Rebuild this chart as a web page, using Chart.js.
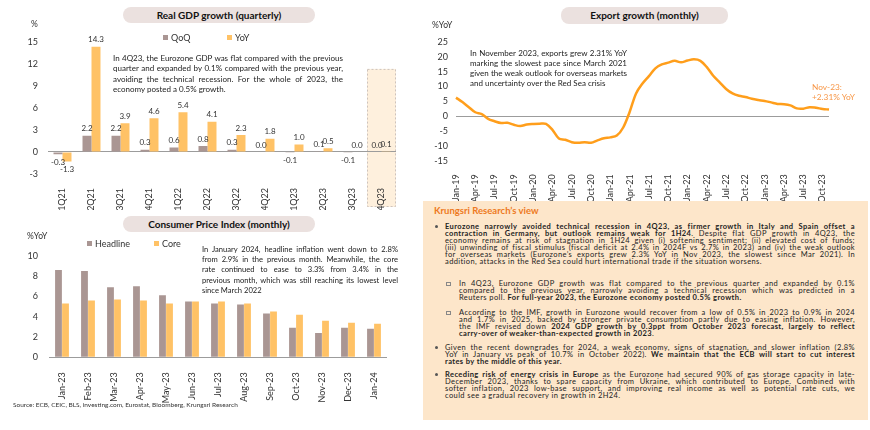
<!DOCTYPE html>
<html>
<head>
<meta charset="utf-8">
<script src="https://cdn.jsdelivr.net/npm/chart.js@4.4.1/dist/chart.umd.min.js"></script>
<style>
  body { margin: 0; background: #fff; font-family: Lato, 'Open Sans', sans-serif; color: #222; }
  #page { position: relative; width: 870px; height: 430px; overflow: hidden; }
  canvas { position: absolute; }
  .pill { position: absolute; background: #EBE1DF; border-radius: 8px; font-weight: 700; font-size: 10px; color: #111; text-align: center; }
  .unit { position: absolute; font-size: 8.5px; color: #333; line-height: 10px; }
  .key { position: absolute; font-size: 9px; color: #333; line-height: 10px; white-space: nowrap; }
  .key i { display: inline-block; width: 5px; height: 5px; margin-right: 3px; vertical-align: 1px; }
  .note { position: absolute; font-size: 8px; color: #222; }
  .note div { white-space: nowrap; text-align: justify; text-align-last: justify; }
  .note div.end { text-align-last: left; }
  #view { position: absolute; left: 423px; top: 201px; width: 445px; height: 219px; background: #FDE6CA; }
  #viewTitle { position: absolute; left: 434px; top: 205px; font-size: 9.5px; font-weight: 700; color: #EE7A22; line-height: 12px; }
  .ln { position: absolute; left: 445px; width: 410px; height: 7px; line-height: 7px; font-size: 7.5px; color: #222;
        white-space: nowrap; text-align: justify; text-align-last: justify; }
  .ln.sub { left: 459px; width: 396px; }
  .ln.end { text-align-last: left; }
  .dot { position: absolute; left: 435px; width: 3px; height: 3px; border-radius: 50%; background: #555; }
  .box { position: absolute; left: 446px; width: 2.5px; height: 2.5px; border: 0.6px solid #888; }
  #source { position: absolute; left: 13px; top: 401px; font-size: 6.5px; color: #333; }
</style>
</head>
<body>
<div id="page">
  <div class="pill" style="left:123px;top:7px;width:192px;height:16px;line-height:16px;">Real GDP growth (quarterly)</div>
  <div class="pill" style="left:123px;top:216px;width:192px;height:16px;line-height:16px;">Consumer Price Index (monthly)</div>
  <div class="pill" style="left:561px;top:7px;width:167px;height:17px;line-height:17px;">Export growth (monthly)</div>

  <canvas id="gdp" width="420" height="210" style="left:0;top:0;"></canvas>
  <canvas id="cpi" width="420" height="200" style="left:0;top:205px;"></canvas>
  <canvas id="exp" width="445" height="205" style="left:425px;top:0;"></canvas>

  <div class="unit" style="left:31px;top:19px;">%</div>
  <div class="unit" style="left:27px;top:231px;">%YoY</div>
  <div class="unit" style="left:432px;top:20px;">%YoY</div>

  <div class="key" style="left:163px;top:33px;"><i style="background:#AA9693"></i>QoQ</div>
  <div class="key" style="left:227px;top:33px;"><i style="background:#FFC266"></i>YoY</div>
  <div class="key" style="left:87px;top:239px;"><i style="background:#AA9693"></i>Headline</div>
  <div class="key" style="left:154px;top:239px;"><i style="background:#FFC266"></i>Core</div>

  <div class="note" style="left:113px;top:53px;width:230px;line-height:10.3px;">
    <div>In 4Q23, the Eurozone GDP was flat compared with the previous</div>
    <div>quarter and expanded by 0.1% compared with the previous year,</div>
    <div>avoiding the technical recession. For the whole of 2023, the</div>
    <div class="end">economy posted a 0.5% growth.</div>
  </div>
  <div class="note" style="left:202px;top:244px;width:196px;line-height:10.2px;font-size:7.6px;">
    <div>In January 2024, headline inflation went down to 2.8%</div>
    <div>from 2.9% in the previous month. Meanwhile, the core</div>
    <div>rate continued to ease to 3.3% from 3.4% in the</div>
    <div>previous month, which was still reaching its lowest level</div>
    <div class="end">since March 2022</div>
  </div>
  <div class="note" style="left:470px;top:48px;width:157px;line-height:10px;">
    <div>In November 2023, exports grew 2.31% YoY</div>
    <div>marking the slowest pace since March 2021</div>
    <div>given the weak outlook for overseas markets</div>
    <div class="end">and uncertainty over the Red Sea crisis</div>
  </div>
  <div class="note" style="left:812px;top:82px;line-height:10.4px;font-size:8.3px;color:#F79646;">Nov-23:<br>+2.31% YoY</div>

  <div id="source">Source: ECB, CEIC, BLS, investing.com, Eurostat, Bloomberg, Krungsri Research</div>

  <div id="view"></div>
  <div id="viewTitle">Krungsri Research’s view</div>

  <div class="dot" style="top:224.5px;"></div>
  <div class="ln" style="top:222.5px;"><b>Eurozone narrowly avoided technical recession in 4Q23, as firmer growth in Italy and Spain offset a</b></div>
  <div class="ln" style="top:229.6px;"><b>contraction in Germany, but outlook remains weak for 1H24</b>. Despite flat GDP growth in 4Q23, the</div>
  <div class="ln" style="top:236.7px;">economy remains at risk of stagnation in 1H24 given (i) softening sentiment; (ii) elevated cost of funds;</div>
  <div class="ln" style="top:243.8px;">(iii) unwinding of fiscal stimulus (fiscal deficit at 2.4% in 2024F vs 2.7% in 2023) and (iv) the weak outlook</div>
  <div class="ln" style="top:250.9px;">for overseas markets (Eurozone’s exports grew 2.3% YoY in Nov 2023, the slowest since Mar 2021). In</div>
  <div class="ln end" style="top:258px;">addition, attacks in the Red Sea could hurt international trade if the situation worsens.</div>

  <div class="box" style="top:281.8px;"></div>
  <div class="ln sub" style="top:279.8px;">In 4Q23, Eurozone GDP growth was flat compared to the previous quarter and expanded by 0.1%</div>
  <div class="ln sub" style="top:286.9px;">compared to the previous year, narrowly avoiding a technical recession which was predicted in a</div>
  <div class="ln sub end" style="top:294px;">Reuters poll. <b>For full-year 2023, the Eurozone economy posted 0.5% growth.</b></div>

  <div class="box" style="top:310.5px;"></div>
  <div class="ln sub" style="top:308.5px;">According to the IMF, growth in Eurozone would recover from a low of 0.5% in 2023 to 0.9% in 2024</div>
  <div class="ln sub" style="top:315.6px;">and 1.7% in 2025, backed by stronger private consumption partly due to easing inflation. However,</div>
  <div class="ln sub" style="top:322.7px;">the IMF revised down <b>2024 GDP growth by 0.3ppt from October 2023 forecast, largely to reflect</b></div>
  <div class="ln sub end" style="top:329.8px;"><b>carry-over of weaker-than-expected growth in 2023</b>.</div>

  <div class="dot" style="top:345.8px;"></div>
  <div class="ln" style="top:343.8px;">Given the recent downgrades for 2024, a weak economy, signs of stagnation, and slower inflation (2.8%</div>
  <div class="ln" style="top:350.9px;">YoY in January vs peak of 10.7% in October 2022). <b>We maintain that the ECB will start to cut interest</b></div>
  <div class="ln end" style="top:358px;"><b>rates by the middle of this year.</b></div>

  <div class="dot" style="top:372.5px;"></div>
  <div class="ln" style="top:370.5px;"><b>Receding risk of energy crisis in Europe</b> as the Eurozone had secured 90% of gas storage capacity in late-</div>
  <div class="ln" style="top:377.6px;">December 2023, thanks to spare capacity from Ukraine, which contributed to Europe. Combined with</div>
  <div class="ln" style="top:384.7px;">softer inflation, 2023 low-base support, and improving real income as well as potential rate cuts, we</div>
  <div class="ln end" style="top:391.8px;">could see a gradual recovery in growth in 2H24.</div>
</div>

<script>
// GDP (quarterly, %)
const gdpQuarters = ['1Q21', '2Q21', '3Q21', '4Q21', '1Q22', '2Q22', '3Q22', '4Q22', '1Q23', '2Q23', '3Q23', '4Q23'];
const gdpQoQ = [-0.3, 2.2, 2.2, 0.3, 0.6, 0.8, 0.3, 0.0, -0.1, 0.1, -0.1, 0.0];
const gdpYoY = [-1.3, 14.3, 3.9, 4.6, 5.4, 4.1, 2.3, 1.8, 1.0, 0.5, 0.0, 0.1];
const highlightQuarter = '4Q23';
const highlightTop = 11.3;

// CPI (monthly, %YoY)
const cpiMonths = ['Jan-23', 'Feb-23', 'Mar-23', 'Apr-23', 'May-23', 'Jun-23', 'Jul-23', 'Aug-23', 'Sep-23', 'Oct-23', 'Nov-23', 'Dec-23', 'Jan-24'];
const cpiHeadline = [8.6, 8.5, 6.9, 7.0, 6.1, 5.5, 5.3, 5.2, 4.3, 2.9, 2.4, 2.9, 2.8];
const cpiCore = [5.3, 5.6, 5.7, 5.6, 5.3, 5.5, 5.5, 5.3, 4.5, 4.2, 3.6, 3.4, 3.3];

// Exports (monthly, %YoY)
const exportMonths = [
  'Jan-19', 'Feb-19', 'Mar-19', 'Apr-19', 'May-19', 'Jun-19', 'Jul-19', 'Aug-19', 'Sep-19', 'Oct-19', 'Nov-19', 'Dec-19',
  'Jan-20', 'Feb-20', 'Mar-20', 'Apr-20', 'May-20', 'Jun-20', 'Jul-20', 'Aug-20', 'Sep-20', 'Oct-20', 'Nov-20', 'Dec-20',
  'Jan-21', 'Feb-21', 'Mar-21', 'Apr-21', 'May-21', 'Jun-21', 'Jul-21', 'Aug-21', 'Sep-21', 'Oct-21', 'Nov-21', 'Dec-21',
  'Jan-22', 'Feb-22', 'Mar-22', 'Apr-22', 'May-22', 'Jun-22', 'Jul-22', 'Aug-22', 'Sep-22', 'Oct-22', 'Nov-22', 'Dec-22',
  'Jan-23', 'Feb-23', 'Mar-23', 'Apr-23', 'May-23', 'Jun-23', 'Jul-23', 'Aug-23', 'Sep-23', 'Oct-23', 'Nov-23'
];
const exportYoY = [
  6.3, 4.8, 3.1, 1.4, 0.8, -0.8, -1.6, -2.2, -2.1, -2.8, -3.2, -2.7,
  -2.5, -2.4, -2.5, -4.5, -7.4, -7.8, -8.6, -8.8, -8.6, -8.8, -8.0, -7.3,
  -7.0, -6.4, -3.7, 1.5, 7.7, 11.0, 13.5, 16.1, 17.4, 18.0, 18.6, 18.1,
  18.7, 19.1, 18.6, 16.5, 13.6, 11.4, 9.2, 7.7, 6.9, 6.5, 5.9, 5.5,
  5.2, 4.7, 4.2, 4.1, 3.7, 2.7, 2.6, 3.1, 2.9, 2.5, 2.31
];

const GREY = '#AA9693';
const ORANGE = '#FFC266';
const LINE = '#FF9E1B';

// widen the view text with one common letter spacing, as far as every line still fits
(function fitView() {
  const lines = document.querySelectorAll('.ln');
  let ls = 0.4;
  const fits = () => Array.from(lines).every(el => el.scrollWidth <= el.clientWidth + 0.5);
  const apply = () => lines.forEach(el => { el.style.letterSpacing = ls + 'px'; });
  apply();
  while (!fits() && ls > -0.3) {
    ls -= 0.02;
    apply();
  }
})();

Chart.defaults.font.family = 'Lato';
Chart.defaults.font.size = 9;
Chart.defaults.color = '#333';
Chart.defaults.animation = false;
Chart.defaults.plugins.legend.display = false;
Chart.defaults.plugins.tooltip.enabled = false;

// only the zero line is drawn, in grey
const zeroLine = { color: c => c.tick.value === 0 ? '#9C9C9C' : 'rgba(0,0,0,0)', drawTicks: false };

function xAxis(height, pad, extra) {
  return Object.assign({
    grid: { display: false },
    border: { display: false },
    ticks: { minRotation: 90, maxRotation: 90, padding: pad, autoSkip: false },
    afterFit: s => { s.height = height; }
  }, extra || {});
}

function yAxis(width, pad, min, max, step) {
  return {
    min: min, max: max,
    grid: zeroLine,
    border: { display: false },
    ticks: { stepSize: step, padding: pad },
    afterFit: s => { s.width = width; }
  };
}

const barLabels = {
  id: 'barLabels',
  afterDatasetsDraw(chart) {
    const ctx = chart.ctx;
    ctx.save();
    ctx.font = '8px Lato';
    ctx.fillStyle = '#333';
    ctx.textAlign = 'center';
    chart.data.datasets.forEach((ds, i) => {
      chart.getDatasetMeta(i).data.forEach((bar, j) => {
        const v = ds.data[j];
        if (v < 0) {
          ctx.textBaseline = 'top';
          ctx.fillText(v.toFixed(1), bar.x, bar.y + 4);
        } else {
          ctx.textBaseline = 'bottom';
          ctx.fillText(v.toFixed(1), bar.x, bar.y - 3);
        }
      });
    });
    ctx.restore();
  }
};

const highlight = {
  id: 'highlight',
  beforeDraw(chart) {
    const x = chart.scales.x, y = chart.scales.y, ctx = chart.ctx;
    const w = x.width / gdpQuarters.length;
    const left = x.getPixelForValue(gdpQuarters.indexOf(highlightQuarter)) - w / 2;
    const top = y.getPixelForValue(highlightTop);
    const h = chart.height - 3 - top;
    ctx.save();
    ctx.fillStyle = '#FEF0DD';
    ctx.fillRect(left, top, w, h);
    ctx.setLineDash([2, 2]);
    ctx.strokeStyle = '#CDC3BD';
    ctx.lineWidth = 1;
    ctx.strokeRect(left + 0.5, top + 0.5, w - 1, h - 1);
    ctx.restore();
  }
};

new Chart(document.getElementById('gdp'), {
  type: 'bar',
  data: {
    labels: gdpQuarters,
    datasets: [
      { label: 'QoQ', data: gdpQoQ, backgroundColor: GREY },
      { label: 'YoY', data: gdpYoY, backgroundColor: ORANGE }
    ]
  },
  options: {
    responsive: false,
    layout: { padding: { top: 41.7, right: 24, left: 0, bottom: 0 } },
    datasets: { bar: { categoryPercentage: 0.62, barPercentage: 1.0 } },
    scales: {
      x: xAxis(36, 6),
      y: yAxis(48, 10, -3, 15, 3)
    }
  },
  plugins: [highlight, barLabels]
});

new Chart(document.getElementById('cpi'), {
  type: 'bar',
  data: {
    labels: cpiMonths,
    datasets: [
      { label: 'Headline', data: cpiHeadline, backgroundColor: GREY },
      { label: 'Core', data: cpiCore, backgroundColor: ORANGE }
    ]
  },
  options: {
    responsive: false,
    layout: { padding: { top: 50.7, right: 33, left: 0, bottom: 0 } },
    datasets: { bar: { categoryPercentage: 0.54, barPercentage: 0.97 } },
    scales: {
      x: xAxis(47.7, 7),
      y: yAxis(49, 11, 0, 10, 2)
    }
  }
});

new Chart(document.getElementById('exp'), {
  type: 'line',
  data: {
    labels: exportMonths,
    datasets: [
      { label: 'Exports', data: exportYoY, borderColor: LINE, borderWidth: 2.5, pointRadius: 0, tension: 0.35, fill: false }
    ]
  },
  options: {
    responsive: false,
    layout: { padding: { top: 41.7, right: 41, left: 0, bottom: 0 } },
    scales: {
      x: xAxis(43.7, 5, {
        ticks: {
          minRotation: 90, maxRotation: 90, padding: 5, autoSkip: false,
          callback: (v, i) => i % 3 === 0 ? exportMonths[i] : null
        }
      }),
      y: yAxis(31, 8, -15, 25, 5)
    }
  }
});
</script>
</body>
</html>
